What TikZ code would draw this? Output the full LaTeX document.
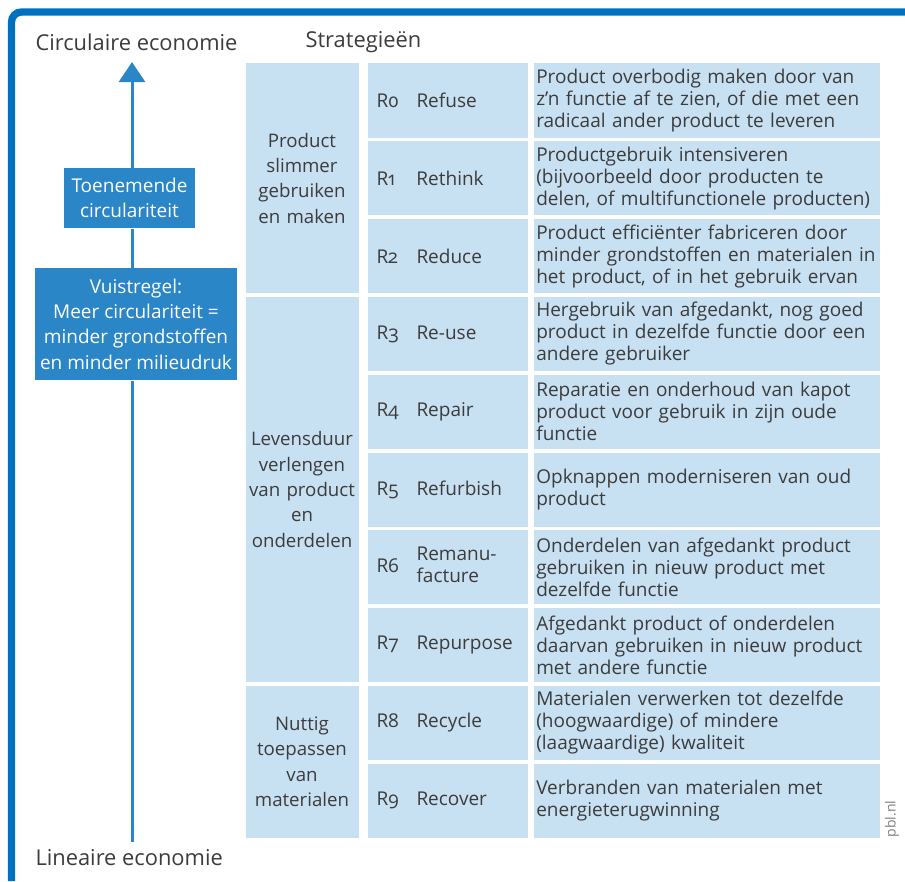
\documentclass[tikz,border=0pt]{standalone}
\usepackage{fontspec}
\setmainfont{Open Sans}[Numbers=OldStyle]
\usetikzlibrary{arrows.meta}

\definecolor{pblframe}{RGB}{0,112,192}
\definecolor{pblblue}{RGB}{42,134,199}
\definecolor{pblcell}{RGB}{200,225,242}
\definecolor{pbltext}{RGB}{60,60,60}

\tikzset{every picture/.style={line width=0.75pt}}
\tikzset{
  txt/.style={text=pbltext, inner sep=0pt, font=\fontsize{14.25pt}{16.5pt}\selectfont},
  headtxt/.style={txt, anchor=west, font=\fontsize{16.4pt}{18pt}\selectfont},
  cell/.style={txt, fill=pblcell, anchor=north west, inner xsep=3pt, inner ysep=0pt, minimum height=55.5pt},
  groupcell/.style={cell, inner xsep=0pt, text width=84.75pt, align=center, font=\fontsize{14pt}{19pt}\selectfont},
  rcell/.style={cell, inner xsep=6.75pt, text width=106.5pt, align=left},
  desccell/.style={cell, inner xsep=2.1pt, text width=256pt, align=left},
  bluebox/.style={fill=pblblue, text=white, inner sep=0pt, align=center, font=\fontsize{14.25pt}{19pt}\selectfont},
  axis/.style={draw=pblblue, line width=2.25pt},
}

\begin{document}
\begin{tikzpicture}[x=0.75pt,y=0.75pt,yscale=-1,xscale=1]
\useasboundingbox (0,0) rectangle (905,881);

%Frame
\draw [pblframe, line width=5.5pt, rounded corners=7.5pt] (11.5,881) -- (11.5,12) -- (905,12) ;

% Text Node
\node [headtxt] (circ) at (35,42) {Circulaire economie};
% Text Node
\node [headtxt] (strat) at (305,42) {Strategieën};
% Text Node
\node [headtxt] (lin) at (35,858) {Lineaire economie};

%Axis end points
\coordinate (axbot) at (132,842);
\coordinate (axtop) at (132,62);

%Boxes on the axis
\node [bluebox, minimum width=98.25pt, minimum height=45pt] (toen) at (129.5,198) {Toenemende\\circulariteit};
\node [bluebox, minimum width=151.5pt, minimum height=84pt] (vuist) at (136,324) {Vuistregel:\\Meer circulariteit =\\minder grondstoffen\\en minder milieudruk};

%Straight Lines
\draw [axis] (axbot) -- (axbot |- vuist.south) ;
\draw [axis] (axbot |- vuist.north) -- (axbot |- toen.south) ;
\draw [axis, -{Triangle[width=19.5pt,length=15pt]}] (axbot |- toen.north) -- (axtop) ;

%Group cells
\node [groupcell, minimum height=172.2pt] (g1) at (245,63) {Product\\slimmer\\gebruiken\\en maken};
\node [groupcell, minimum height=288.9pt] (g2) at (245,296.4) {Levensduur\\verlengen\\van product\\en\\onderdelen};
\node [groupcell, minimum height=113.7pt] (g3) at (245,685.4) {Nuttig\\toepassen\\van\\materialen};

%R cells
\node [rcell] (r0) at (367,63) {\makebox[30pt][l]{R0}Refuse};
\node [rcell] (r1) at (367,140.8) {\makebox[30pt][l]{R1}Rethink};
\node [rcell] (r2) at (367,218.6) {\makebox[30pt][l]{R2}Reduce};
\node [rcell] (r3) at (367,296.4) {\makebox[30pt][l]{R3}Re-use};
\node [rcell] (r4) at (367,374.2) {\makebox[30pt][l]{R4}Repair};
\node [rcell] (r5) at (367,452) {\makebox[30pt][l]{R5}Refurbish};
\node [rcell] (r6) at (367,529.8) {\makebox[30pt][l]{R6}\begin{tabular}[c]{@{}l@{}}Remanu-\\facture\end{tabular}};
\node [rcell] (r7) at (367,607.6) {\makebox[30pt][l]{R7}Repurpose};
\node [rcell] (r8) at (367,685.4) {\makebox[30pt][l]{R8}Recycle};
\node [rcell] (r9) at (367,763.2) {\makebox[30pt][l]{R9}Recover};

%Description cells
\node [desccell] (d0) at (533,63) {Product overbodig maken door van\\z’n functie af te zien, of die met een\\radicaal ander product te leveren};
\node [desccell] (d1) at (533,140.8) {Productgebruik intensiveren\\(bijvoorbeeld door producten te\\delen, of multifunctionele producten)};
\node [desccell] (d2) at (533,218.6) {Product efficiënter fabriceren door\\minder grondstoffen en materialen in\\het product, of in het gebruik ervan};
\node [desccell] (d3) at (533,296.4) {Hergebruik van afgedankt, nog goed\\product in dezelfde functie door een\\andere gebruiker};
\node [desccell] (d4) at (533,374.2) {Reparatie en onderhoud van kapot\\product voor gebruik in zijn oude\\functie};
\node [desccell] (d5) at (533,452) {Opknappen moderniseren van oud\\product};
\node [desccell] (d6) at (533,529.8) {Onderdelen van afgedankt product\\gebruiken in nieuw product met\\dezelfde functie};
\node [desccell] (d7) at (533,607.6) {Afgedankt product of onderdelen\\daarvan gebruiken in nieuw product\\met andere functie};
\node [desccell] (d8) at (533,685.4) {Materialen verwerken tot dezelfde\\(hoogwaardige) of mindere\\(laagwaardige) kwaliteit};
\node [desccell] (d9) at (533,763.2) {Verbranden van materialen met\\energieterugwinning};

% Text Node
\node [rotate=90, text=gray, inner sep=0pt, font=\fontsize{10.5pt}{12pt}\selectfont] (pbl) at (892,819) {pbl.nl};
\end{tikzpicture}
\end{document}
